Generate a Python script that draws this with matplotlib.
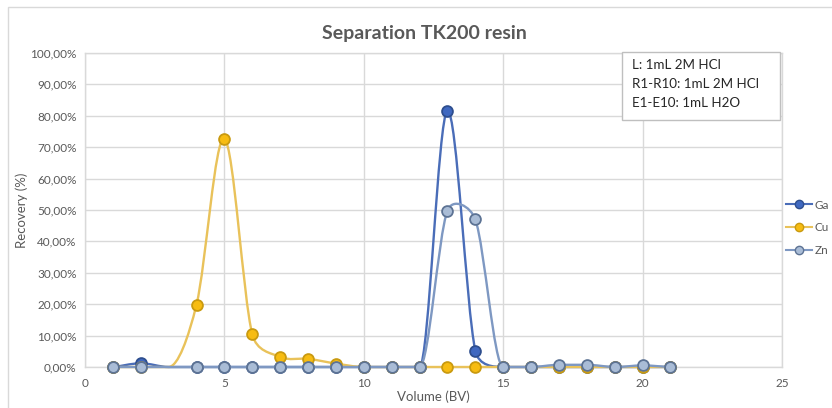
import numpy as np
import matplotlib
matplotlib.use('Agg')
import matplotlib.pyplot as plt
from matplotlib.path import Path
from matplotlib.patches import PathPatch, Rectangle
from matplotlib.lines import Line2D
from matplotlib.ticker import FuncFormatter, MultipleLocator

plt.rcParams['font.family'] = ['Lato', 'DejaVu Sans']

# Data (recovery in %), fraction volume in BV
volume = [1, 2, 3, 4, 5, 6, 7, 8, 9, 10, 11, 12, 13, 14, 15, 16, 17, 18, 19, 20, 21]
ga = [0, 1.2, 0, 0, 0, 0, 0, 0, 0, 0, 0, 0, 81.6, 5.2, 0, 0, 0, 0, 0, 0, 0]
cu = [0, 0, 0, 19.9, 72.7, 10.4, 3.2, 2.6, 1.1, 0, 0, 0, 0, 0, 0, 0, 0, 0, 0, 0, 0]
zn = [0, 0, 0, 0, 0, 0, 0, 0, 0, 0, 0, 0, 49.8, 47.0, 0, 0, 0.7, 0.7, 0, 0.5, 0]
no_marker = [3]   # fraction without a marker in the original chart

series = [
    ('Ga', ga, '#4A6DB8', '#3F68C0', '#2E4E8E'),
    ('Cu', cu, '#E9C25A', '#F7BC12', '#C99A10'),
    ('Zn', zn, '#7E98C2', '#A9BCD6', '#5D7394'),
]

notes = ['L: 1mL 2M HCl', 'R1-R10: 1mL 2M HCl', 'E1-E10: 1mL H2O']

# Layout (pixels of the 832x408 image)
W, H = 832, 408
ax_l, ax_r, ax_t, ax_b = 85, 782, 53, 367
xmax, ymax = 25, 100
sx = (ax_r - ax_l) / xmax      # px per BV
sy = (ax_b - ax_t) / ymax      # px per %

grey_txt = '#595959'
grid_c = '#D9D9D9'


def smooth_path(x, y, f=1.0/6, cap=0.5):
    '''
    Excel-like smoothed line: Catmull-Rom style Bezier segments,
    handle length limited to a part of the segment (screen space),
    flat tangent next to a flat segment (no dips below zero)
    '''
    px = np.asarray(x, float) * sx
    py = np.asarray(y, float) * sy
    n = len(px)

    def tangent(i):
        a, b = max(i - 1, 0), min(i + 1, n - 1)
        t = np.array([px[b] - px[a], py[b] - py[a]]) * f
        if py[a] == py[i] or py[b] == py[i]:
            t[1] = 0.0
        return t

    def limit(t, d):
        m = np.hypot(*t)
        if m > cap * d:
            t = t * cap * d / m
        return t

    verts = [(x[0], y[0])]
    codes = [Path.MOVETO]
    for i in range(n - 1):
        d = np.hypot(px[i+1] - px[i], py[i+1] - py[i])
        t0 = limit(tangent(i), d)
        t1 = limit(tangent(i + 1), d)
        c1 = (px[i] + t0[0], py[i] + t0[1])
        c2 = (px[i+1] - t1[0], py[i+1] - t1[1])
        verts += [(c1[0]/sx, c1[1]/sy), (c2[0]/sx, c2[1]/sy), (x[i+1], y[i+1])]
        codes += [Path.CURVE4, Path.CURVE4, Path.CURVE4]
    return Path(verts, codes)


fig = plt.figure(figsize=(W/100, H/100), dpi=100)
fig.patches.append(Rectangle((8/W, -0.05), 1.1, (H - 7)/H + 0.05, transform=fig.transFigure,
                             fill=False, ec='#D9D9D9', lw=1.0, zorder=0))

ax = fig.add_axes([ax_l/W, 1 - ax_b/H, (ax_r - ax_l)/W, (ax_b - ax_t)/H])
ax.set_xlim(0, xmax)
ax.set_ylim(0, ymax)
ax.xaxis.set_major_locator(MultipleLocator(5))
ax.yaxis.set_major_locator(MultipleLocator(10))
ax.yaxis.set_major_formatter(FuncFormatter(lambda v, p: '{:.2f}%'.format(v).replace('.', ',')))
ax.grid(True, color=grid_c, lw=1.0)
ax.set_axisbelow(True)
for sp in ax.spines.values():
    sp.set_color(grid_c)
    sp.set_linewidth(1.0)
ax.tick_params(length=0, labelsize=8.5, labelcolor=grey_txt, pad=6)
ax.tick_params(axis='x', pad=8)

handles = []
for k, (name, vals, lc, fc, ec) in enumerate(series):
    path = smooth_path(volume, vals)
    ax.add_patch(PathPatch(path, fill=False, ec=lc, lw=1.7, zorder=3 + k, clip_on=False))
    mk = [i for i, v in enumerate(volume) if v not in no_marker]
    ax.plot(np.array(volume)[mk], np.array(vals)[mk], ls='none', marker='o', ms=7.8,
            mfc=fc, mec=ec, mew=1.3, zorder=3.5 + k, clip_on=False)
    handles.append(Line2D([], [], color=lc, lw=1.5, marker='o', ms=6, mfc=fc, mec=ec, mew=1.0))

ax.legend(handles, [s[0] for s in series], loc='center left', bbox_to_anchor=(0.999, 0.443),
          frameon=False, fontsize=8.5, labelcolor=grey_txt, handlelength=2.2,
          handletextpad=0.2, labelspacing=1.0, borderaxespad=0.0)

ax.set_xlabel('Volume (BV)', fontsize=9.5, color=grey_txt, labelpad=1)
ax.set_ylabel('Recovery (%)', fontsize=9.5, color=grey_txt, labelpad=2)
fig.text(424/W, 1 - 34/H, 'Separation TK200 resin', ha='center', va='center',
         fontsize=14, fontweight='bold', color=grey_txt)

# note box in the upper right corner
bx0, bx1 = (622 - ax_l)/(ax_r - ax_l), (780 - ax_l)/(ax_r - ax_l)
by0, by1 = (ax_b - 120)/(ax_b - ax_t), (ax_b - 52)/(ax_b - ax_t)
ax.add_patch(Rectangle((bx0, by0), bx1 - bx0, by1 - by0, transform=ax.transAxes,
                       fc='white', ec='#BFBFBF', lw=1.0, zorder=10, clip_on=False))
for j, line in enumerate(notes):
    ax.text((632 - ax_l)/(ax_r - ax_l), (ax_b - 65 - 19*j)/(ax_b - ax_t), line,
            transform=ax.transAxes, ha='left', va='center', fontsize=9.6,
            color='#262626', zorder=11)

fig.savefig('out.png', dpi=100)
